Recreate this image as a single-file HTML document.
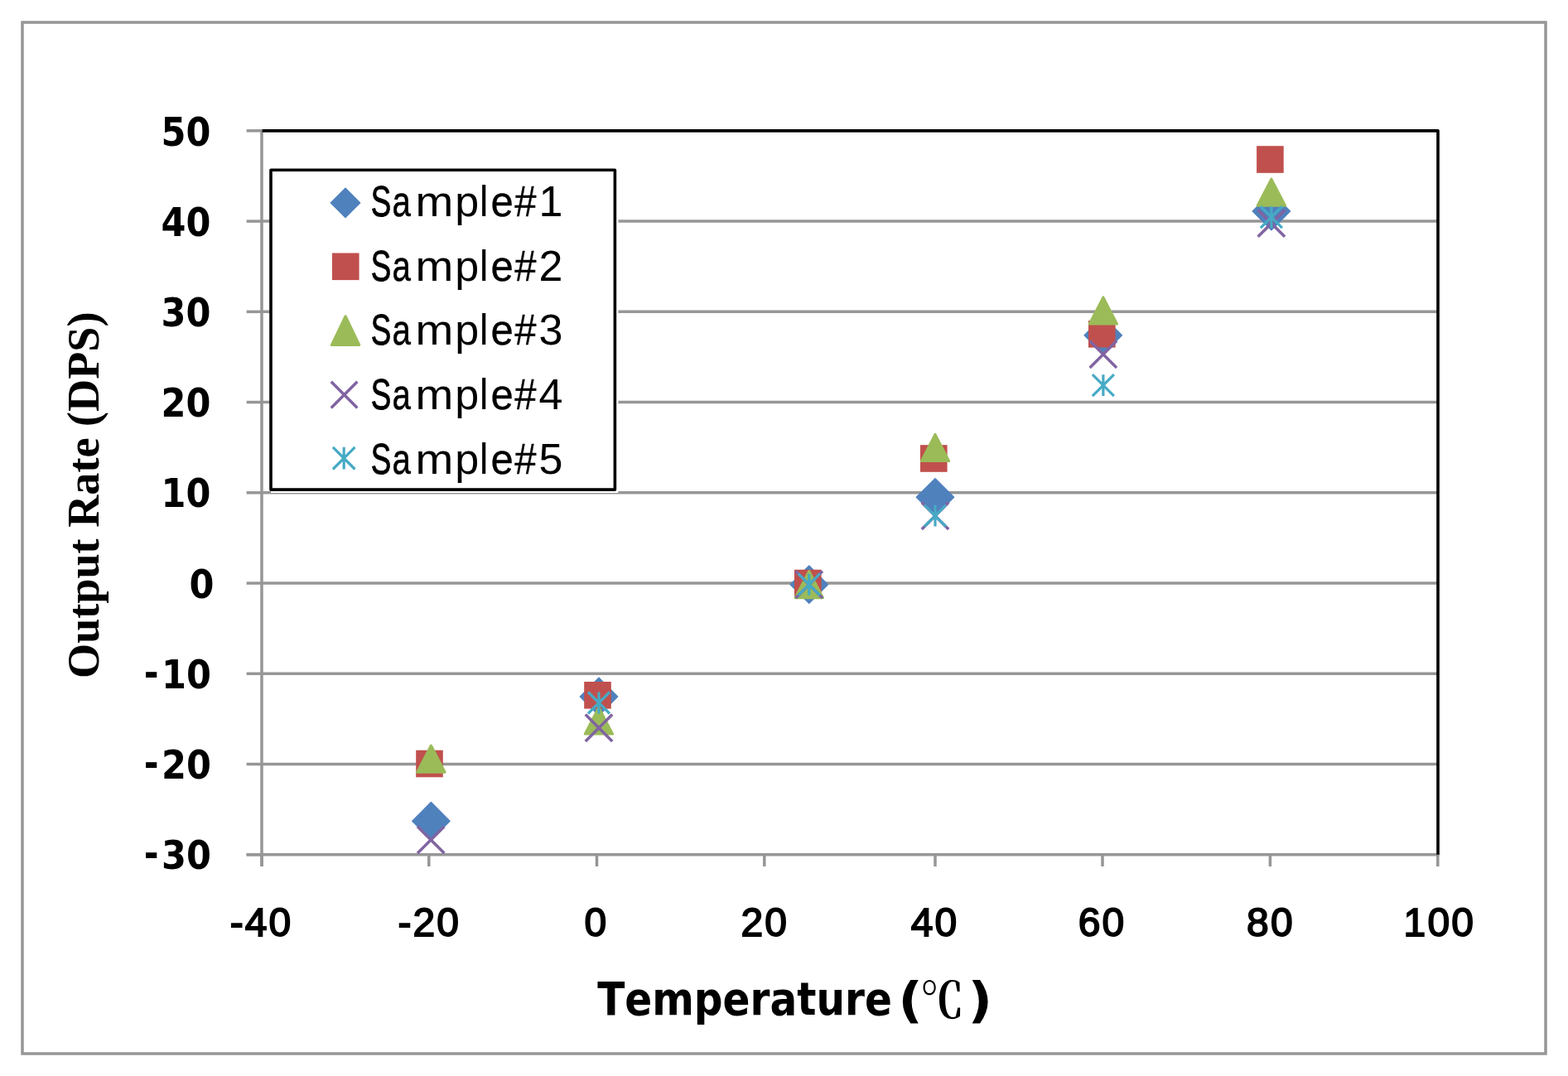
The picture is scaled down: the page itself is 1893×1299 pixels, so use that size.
<!DOCTYPE html>
<html lang="en"><head><meta charset="utf-8"><title>Output Rate vs Temperature</title>
<style>html,body{margin:0;padding:0;background:#fff;}body{width:1893px;height:1299px;overflow:hidden;}svg{display:block;}</style>
</head><body>
<svg width="1893" height="1299" viewBox="0 0 1893 1299">
<rect x="0" y="0" width="1893" height="1299" fill="#ffffff"/>
<rect x="27" y="27" width="1839.0" height="1245.0" fill="none" stroke="#969696" stroke-width="3.5"/>
<line x1="316" y1="922.53" x2="1736" y2="922.53" stroke="#969696" stroke-width="3.5"/>
<line x1="316" y1="813.29" x2="1736" y2="813.29" stroke="#969696" stroke-width="3.5"/>
<line x1="316" y1="704.05" x2="1736" y2="704.05" stroke="#969696" stroke-width="3.5"/>
<line x1="316" y1="594.81" x2="1736" y2="594.81" stroke="#969696" stroke-width="3.5"/>
<line x1="316" y1="485.57" x2="1736" y2="485.57" stroke="#969696" stroke-width="3.5"/>
<line x1="316" y1="376.33" x2="1736" y2="376.33" stroke="#969696" stroke-width="3.5"/>
<line x1="316" y1="267.09" x2="1736" y2="267.09" stroke="#969696" stroke-width="3.5"/>
<line x1="316" y1="156.15" x2="316" y2="1046" stroke="#969696" stroke-width="3.5"/>
<line x1="297.6" y1="1031.77" x2="1737.6" y2="1031.77" stroke="#969696" stroke-width="3.5"/>
<line x1="297.6" y1="1031.77" x2="316" y2="1031.77" stroke="#969696" stroke-width="3.5"/>
<line x1="297.6" y1="922.53" x2="316" y2="922.53" stroke="#969696" stroke-width="3.5"/>
<line x1="297.6" y1="813.29" x2="316" y2="813.29" stroke="#969696" stroke-width="3.5"/>
<line x1="297.6" y1="704.05" x2="316" y2="704.05" stroke="#969696" stroke-width="3.5"/>
<line x1="297.6" y1="594.81" x2="316" y2="594.81" stroke="#969696" stroke-width="3.5"/>
<line x1="297.6" y1="485.57" x2="316" y2="485.57" stroke="#969696" stroke-width="3.5"/>
<line x1="297.6" y1="376.33" x2="316" y2="376.33" stroke="#969696" stroke-width="3.5"/>
<line x1="297.6" y1="267.09" x2="316" y2="267.09" stroke="#969696" stroke-width="3.5"/>
<line x1="297.6" y1="157.85" x2="316" y2="157.85" stroke="#969696" stroke-width="3.5"/>
<line x1="316.0" y1="1031.77" x2="316.0" y2="1046" stroke="#969696" stroke-width="3.5"/>
<line x1="517.8" y1="1031.77" x2="517.8" y2="1046" stroke="#969696" stroke-width="3.5"/>
<line x1="720.5" y1="1031.77" x2="720.5" y2="1046" stroke="#969696" stroke-width="3.5"/>
<line x1="922.8" y1="1031.77" x2="922.8" y2="1046" stroke="#969696" stroke-width="3.5"/>
<line x1="1129.0" y1="1031.77" x2="1129.0" y2="1046" stroke="#969696" stroke-width="3.5"/>
<line x1="1331.0" y1="1031.77" x2="1331.0" y2="1046" stroke="#969696" stroke-width="3.5"/>
<line x1="1533.4" y1="1031.77" x2="1533.4" y2="1046" stroke="#969696" stroke-width="3.5"/>
<line x1="1735.8" y1="1031.77" x2="1735.8" y2="1046" stroke="#969696" stroke-width="3.5"/>
<path d="M316.6 157.85 H1736 V1031.77" fill="none" stroke="#000" stroke-width="3.6" stroke-linejoin="round"/>
<g>
<path d="M520.4 968.6 L543.0 991.2 L520.4 1013.8 L497.8 991.2 Z" fill="#4f81bd" stroke="#4f81bd" stroke-width="1.5" stroke-linejoin="round"/>
<path d="M723.0 818.4 L745.6 841.0 L723.0 863.6 L700.4 841.0 Z" fill="#4f81bd" stroke="#4f81bd" stroke-width="1.5" stroke-linejoin="round"/>
<path d="M976.8 683.1 L999.4 705.7 L976.8 728.3 L954.2 705.7 Z" fill="#4f81bd" stroke="#4f81bd" stroke-width="1.5" stroke-linejoin="round"/>
<path d="M1129.0 577.7 L1151.6 600.3 L1129.0 622.9 L1106.4 600.3 Z" fill="#4f81bd" stroke="#4f81bd" stroke-width="1.5" stroke-linejoin="round"/>
<path d="M1331.8 382.2 L1354.4 404.8 L1331.8 427.4 L1309.2 404.8 Z" fill="#4f81bd" stroke="#4f81bd" stroke-width="1.5" stroke-linejoin="round"/>
<path d="M1534.9 232.4 L1557.5 255.0 L1534.9 277.6 L1512.3 255.0 Z" fill="#4f81bd" stroke="#4f81bd" stroke-width="1.5" stroke-linejoin="round"/>
<rect x="502.2" y="905.7" width="32.6" height="32.6" fill="#c0504d"/>
<rect x="705.2" y="823.0" width="32.6" height="32.6" fill="#c0504d"/>
<rect x="959.0" y="687.7" width="32.6" height="32.6" fill="#c0504d"/>
<rect x="1111.0" y="537.2" width="32.6" height="32.6" fill="#c0504d"/>
<rect x="1314.0" y="387.0" width="32.6" height="32.6" fill="#c0504d"/>
<rect x="1517.1" y="176.2" width="32.6" height="32.6" fill="#c0504d"/>
<path d="M520.4 900.0 L537.1 932.2 L503.7 932.2 Z" fill="#9bbb59" stroke="#9bbb59" stroke-width="3.0" stroke-linejoin="round"/>
<path d="M722.9 853.9 L739.6 886.1 L706.2 886.1 Z" fill="#9bbb59" stroke="#9bbb59" stroke-width="3.0" stroke-linejoin="round"/>
<path d="M976.8 689.5 L993.5 721.7 L960.1 721.7 Z" fill="#9bbb59" stroke="#9bbb59" stroke-width="3.0" stroke-linejoin="round"/>
<path d="M1129.0 524.4 L1145.7 556.6 L1112.3 556.6 Z" fill="#9bbb59" stroke="#9bbb59" stroke-width="3.0" stroke-linejoin="round"/>
<path d="M1331.9 358.9 L1348.6 391.1 L1315.2 391.1 Z" fill="#9bbb59" stroke="#9bbb59" stroke-width="3.0" stroke-linejoin="round"/>
<path d="M1534.9 216.1 L1551.6 248.3 L1518.2 248.3 Z" fill="#9bbb59" stroke="#9bbb59" stroke-width="3.0" stroke-linejoin="round"/>
<path d="M504.0 997.7 L536.4 1030.1 M536.4 997.7 L504.0 1030.1" fill="none" stroke="#8064a2" stroke-width="3.5"/>
<path d="M706.8 862.5 L739.2 894.9 M739.2 862.5 L706.8 894.9" fill="none" stroke="#8064a2" stroke-width="3.5"/>
<path d="M960.6 689.5 L993.0 721.9 M993.0 689.5 L960.6 721.9" fill="none" stroke="#8064a2" stroke-width="3.5"/>
<path d="M1112.8 606.5 L1145.2 638.9 M1145.2 606.5 L1112.8 638.9" fill="none" stroke="#8064a2" stroke-width="3.5"/>
<path d="M1315.7 411.5 L1348.1 443.9 M1348.1 411.5 L1315.7 443.9" fill="none" stroke="#8064a2" stroke-width="3.5"/>
<path d="M1518.7 253.4 L1551.1 285.8 M1551.1 253.4 L1518.7 285.8" fill="none" stroke="#8064a2" stroke-width="3.5"/>
<path d="M710.0 835.5 L736.0 861.5 M736.0 835.5 L710.0 861.5 M723.0 835.6 V861.4" fill="none" stroke="#46aac5" stroke-width="3.2"/>
<path d="M963.8 692.7 L989.8 718.7 M989.8 692.7 L963.8 718.7 M976.8 692.8 V718.6" fill="none" stroke="#46aac5" stroke-width="3.2"/>
<path d="M1116.0 609.7 L1142.0 635.7 M1142.0 609.7 L1116.0 635.7 M1129.0 609.8 V635.6" fill="none" stroke="#46aac5" stroke-width="3.2"/>
<path d="M1318.9 452.1 L1344.9 478.1 M1344.9 452.1 L1318.9 478.1 M1331.9 452.2 V478.0" fill="none" stroke="#46aac5" stroke-width="3.2"/>
<path d="M1521.9 249.1 L1547.9 275.1 M1547.9 249.1 L1521.9 275.1 M1534.9 249.2 V275.0" fill="none" stroke="#46aac5" stroke-width="3.2"/>
</g>
<rect x="327" y="201.5" width="419.4" height="393.5" fill="#fff"/>
<rect x="327" y="205.25" width="415.4" height="385.9" fill="#fff" stroke="#000" stroke-width="3.6" stroke-linejoin="round"/>
<path d="M417.0 227.4 L434.5 244.9 L417.0 262.4 L399.5 244.9 Z" fill="#4f81bd" stroke="#4f81bd" stroke-width="1.5" stroke-linejoin="round"/>
<rect x="401.0" y="305.5" width="32.6" height="32.6" fill="#c0504d"/>
<path d="M417.1 381.7 L433.8 416.5 L400.4 416.5 Z" fill="#9bbb59" stroke="#9bbb59" stroke-width="3.0" stroke-linejoin="round"/>
<path d="M399.8 460.8 L431.4 492.4 M431.4 460.8 L399.8 492.4" fill="none" stroke="#8064a2" stroke-width="3.5"/>
<path d="M401.9 539.9 L428.5 566.5 M428.5 539.9 L401.9 566.5 M415.2 539.8 V566.6" fill="none" stroke="#46aac5" stroke-width="3.2"/>
<text y="260.8" font-family="'Liberation Sans', sans-serif" font-size="52.0" fill="#000"><tspan x="447.69" textLength="24.45" lengthAdjust="spacingAndGlyphs" stroke="#000" stroke-width="0.9">S</tspan><tspan x="473.59" textLength="22.41" lengthAdjust="spacingAndGlyphs" stroke="#000" stroke-width="0.6">a</tspan><tspan x="501.55" textLength="45.77" lengthAdjust="spacingAndGlyphs">m</tspan><tspan x="549.25" textLength="28.94" lengthAdjust="spacingAndGlyphs">p</tspan><tspan x="579.06" textLength="10.36" lengthAdjust="spacingAndGlyphs">l</tspan><tspan x="592.56" textLength="27.38" lengthAdjust="spacingAndGlyphs" stroke="#000" stroke-width="0.3">e</tspan><tspan x="621.24" textLength="26.24" lengthAdjust="spacingAndGlyphs" stroke="#000" stroke-width="0.3">#</tspan><tspan x="650.6">1</tspan></text>
<text y="338.6" font-family="'Liberation Sans', sans-serif" font-size="52.0" fill="#000"><tspan x="447.69" textLength="24.45" lengthAdjust="spacingAndGlyphs" stroke="#000" stroke-width="0.9">S</tspan><tspan x="473.59" textLength="22.41" lengthAdjust="spacingAndGlyphs" stroke="#000" stroke-width="0.6">a</tspan><tspan x="501.55" textLength="45.77" lengthAdjust="spacingAndGlyphs">m</tspan><tspan x="549.25" textLength="28.94" lengthAdjust="spacingAndGlyphs">p</tspan><tspan x="579.06" textLength="10.36" lengthAdjust="spacingAndGlyphs">l</tspan><tspan x="592.56" textLength="27.38" lengthAdjust="spacingAndGlyphs" stroke="#000" stroke-width="0.3">e</tspan><tspan x="621.24" textLength="26.24" lengthAdjust="spacingAndGlyphs" stroke="#000" stroke-width="0.3">#</tspan><tspan x="650.6">2</tspan></text>
<text y="416.4" font-family="'Liberation Sans', sans-serif" font-size="52.0" fill="#000"><tspan x="447.69" textLength="24.45" lengthAdjust="spacingAndGlyphs" stroke="#000" stroke-width="0.9">S</tspan><tspan x="473.59" textLength="22.41" lengthAdjust="spacingAndGlyphs" stroke="#000" stroke-width="0.6">a</tspan><tspan x="501.55" textLength="45.77" lengthAdjust="spacingAndGlyphs">m</tspan><tspan x="549.25" textLength="28.94" lengthAdjust="spacingAndGlyphs">p</tspan><tspan x="579.06" textLength="10.36" lengthAdjust="spacingAndGlyphs">l</tspan><tspan x="592.56" textLength="27.38" lengthAdjust="spacingAndGlyphs" stroke="#000" stroke-width="0.3">e</tspan><tspan x="621.24" textLength="26.24" lengthAdjust="spacingAndGlyphs" stroke="#000" stroke-width="0.3">#</tspan><tspan x="650.6">3</tspan></text>
<text y="494.1" font-family="'Liberation Sans', sans-serif" font-size="52.0" fill="#000"><tspan x="447.69" textLength="24.45" lengthAdjust="spacingAndGlyphs" stroke="#000" stroke-width="0.9">S</tspan><tspan x="473.59" textLength="22.41" lengthAdjust="spacingAndGlyphs" stroke="#000" stroke-width="0.6">a</tspan><tspan x="501.55" textLength="45.77" lengthAdjust="spacingAndGlyphs">m</tspan><tspan x="549.25" textLength="28.94" lengthAdjust="spacingAndGlyphs">p</tspan><tspan x="579.06" textLength="10.36" lengthAdjust="spacingAndGlyphs">l</tspan><tspan x="592.56" textLength="27.38" lengthAdjust="spacingAndGlyphs" stroke="#000" stroke-width="0.3">e</tspan><tspan x="621.24" textLength="26.24" lengthAdjust="spacingAndGlyphs" stroke="#000" stroke-width="0.3">#</tspan><tspan x="650.6">4</tspan></text>
<text y="571.9" font-family="'Liberation Sans', sans-serif" font-size="52.0" fill="#000"><tspan x="447.69" textLength="24.45" lengthAdjust="spacingAndGlyphs" stroke="#000" stroke-width="0.9">S</tspan><tspan x="473.59" textLength="22.41" lengthAdjust="spacingAndGlyphs" stroke="#000" stroke-width="0.6">a</tspan><tspan x="501.55" textLength="45.77" lengthAdjust="spacingAndGlyphs">m</tspan><tspan x="549.25" textLength="28.94" lengthAdjust="spacingAndGlyphs">p</tspan><tspan x="579.06" textLength="10.36" lengthAdjust="spacingAndGlyphs">l</tspan><tspan x="592.56" textLength="27.38" lengthAdjust="spacingAndGlyphs" stroke="#000" stroke-width="0.3">e</tspan><tspan x="621.24" textLength="26.24" lengthAdjust="spacingAndGlyphs" stroke="#000" stroke-width="0.3">#</tspan><tspan x="650.6">5</tspan></text>
<text transform="translate(254.9 1049.4) scale(0.897 1)" text-anchor="end" font-family="'DejaVu Sans', sans-serif" font-weight="bold" font-size="48" fill="#000"><tspan dy="-3.0">-</tspan><tspan dx="3.9" dy="3.0">30</tspan></text>
<text transform="translate(254.9 940.1) scale(0.897 1)" text-anchor="end" font-family="'DejaVu Sans', sans-serif" font-weight="bold" font-size="48" fill="#000"><tspan dy="-3.0">-</tspan><tspan dx="3.9" dy="3.0">20</tspan></text>
<text transform="translate(254.9 830.9) scale(0.897 1)" text-anchor="end" font-family="'DejaVu Sans', sans-serif" font-weight="bold" font-size="48" fill="#000"><tspan dy="-3.0">-</tspan><tspan dx="3.9" dy="3.0">10</tspan></text>
<text transform="translate(258.5 721.6) scale(0.897 1)" text-anchor="end" font-family="'DejaVu Sans', sans-serif" font-weight="bold" font-size="48" fill="#000">0</text>
<text transform="translate(254.4 612.4) scale(0.897 1)" text-anchor="end" font-family="'DejaVu Sans', sans-serif" font-weight="bold" font-size="48" fill="#000">10</text>
<text transform="translate(254.4 503.2) scale(0.897 1)" text-anchor="end" font-family="'DejaVu Sans', sans-serif" font-weight="bold" font-size="48" fill="#000">20</text>
<text transform="translate(254.4 393.9) scale(0.897 1)" text-anchor="end" font-family="'DejaVu Sans', sans-serif" font-weight="bold" font-size="48" fill="#000">30</text>
<text transform="translate(254.4 284.7) scale(0.897 1)" text-anchor="end" font-family="'DejaVu Sans', sans-serif" font-weight="bold" font-size="48" fill="#000">40</text>
<text transform="translate(254.4 175.5) scale(0.897 1)" text-anchor="end" font-family="'DejaVu Sans', sans-serif" font-weight="bold" font-size="48" fill="#000">50</text>
<text x="315.5" y="1130.2" text-anchor="middle" letter-spacing="2.1" font-family="'Liberation Sans', sans-serif" font-size="48" fill="#000" stroke="#000" stroke-width="1.8">-40</text>
<text x="518.3" y="1130.2" text-anchor="middle" letter-spacing="2.1" font-family="'Liberation Sans', sans-serif" font-size="48" fill="#000" stroke="#000" stroke-width="1.8">-20</text>
<text x="720.0" y="1130.2" text-anchor="middle" letter-spacing="2.1" font-family="'Liberation Sans', sans-serif" font-size="48" fill="#000" stroke="#000" stroke-width="1.8">0</text>
<text x="923.3" y="1130.2" text-anchor="middle" letter-spacing="2.1" font-family="'Liberation Sans', sans-serif" font-size="48" fill="#000" stroke="#000" stroke-width="1.8">20</text>
<text x="1128.5" y="1130.2" text-anchor="middle" letter-spacing="2.1" font-family="'Liberation Sans', sans-serif" font-size="48" fill="#000" stroke="#000" stroke-width="1.8">40</text>
<text x="1330.5" y="1130.2" text-anchor="middle" letter-spacing="2.1" font-family="'Liberation Sans', sans-serif" font-size="48" fill="#000" stroke="#000" stroke-width="1.8">60</text>
<text x="1533.9" y="1130.2" text-anchor="middle" letter-spacing="2.1" font-family="'Liberation Sans', sans-serif" font-size="48" fill="#000" stroke="#000" stroke-width="1.8">80</text>
<text x="1737.8" y="1130.2" text-anchor="middle" letter-spacing="2.1" font-family="'Liberation Sans', sans-serif" font-size="48" fill="#000" stroke="#000" stroke-width="1.8">100</text>
<text y="1224.7" font-family="'DejaVu Sans', sans-serif" font-weight="bold" font-size="54.3" fill="#000" style="font-kerning:none"><tspan x="721.2" textLength="355.62" lengthAdjust="spacingAndGlyphs">Temperature</tspan><tspan x="1076"> </tspan><tspan x="1084.3" y="1228" font-size="57.94" textLength="29.66" lengthAdjust="spacingAndGlyphs">(</tspan><tspan x="1111.2" y="1228.5" font-family="'Noto Serif CJK SC', 'Noto Sans CJK SC', serif" font-weight="700" font-size="58.63" textLength="52.08" lengthAdjust="spacingAndGlyphs">℃</tspan><tspan x="1168.4" y="1228" font-size="57.94" textLength="29.66" lengthAdjust="spacingAndGlyphs">)</tspan></text>
<text transform="translate(118.9 819) rotate(-90)" font-family="'Liberation Serif', serif" font-weight="bold" font-size="54.2" fill="#000" style="font-kerning:none">Output Rate (DPS)</text>
</svg>
</body></html>
